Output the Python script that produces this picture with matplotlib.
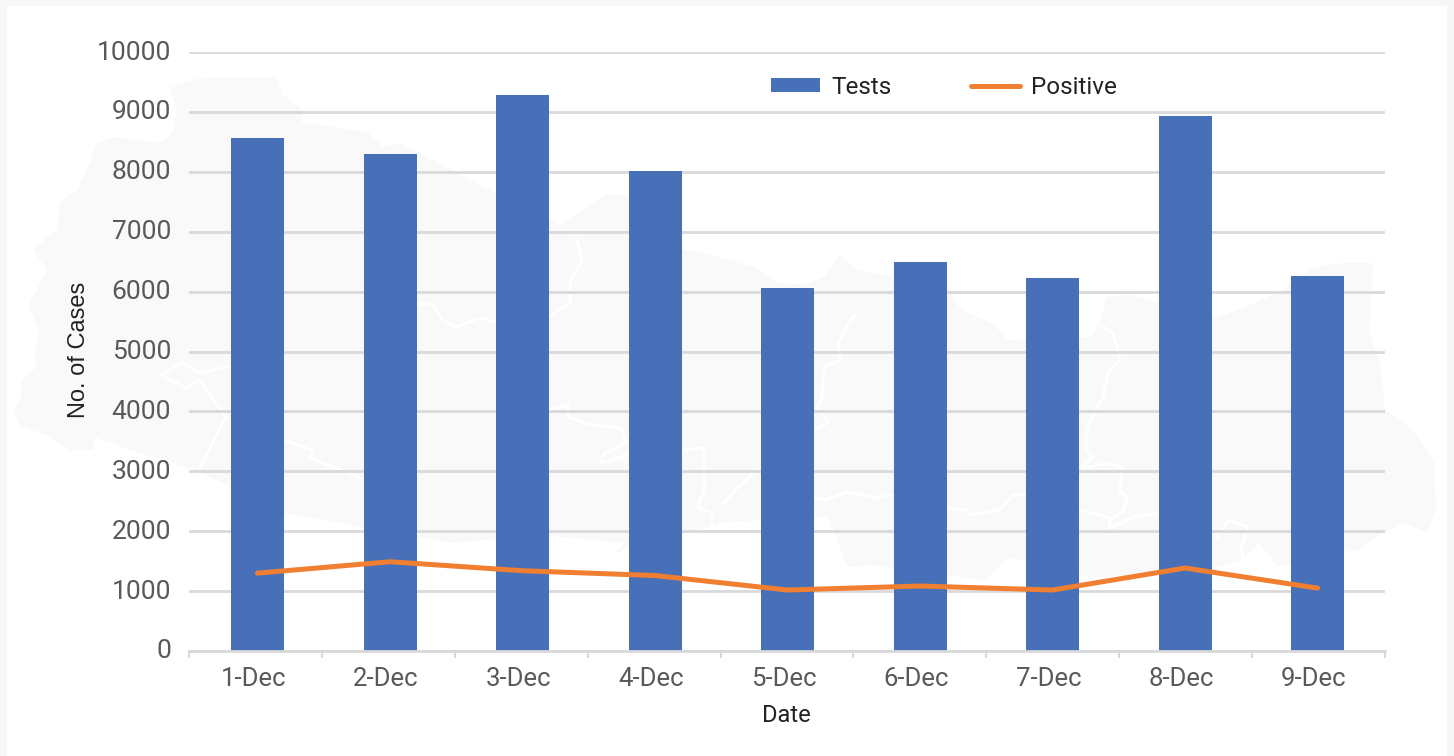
import matplotlib
matplotlib.use('Agg')
import matplotlib.pyplot as plt
from matplotlib.patches import Polygon, Rectangle
from matplotlib.transforms import ScaledTranslation

plt.rcParams['font.family'] = ['Roboto', 'DejaVu Sans']

dates = ['1-Dec', '2-Dec', '3-Dec', '4-Dec', '5-Dec', '6-Dec', '7-Dec', '8-Dec', '9-Dec']
tests = [8570, 8295, 9290, 8020, 6065, 6500, 6220, 8930, 6265]
positive = [1300, 1490, 1340, 1260, 1018, 1085, 1018, 1385, 1050]
y_ticks = list(range(0, 10001, 1000))

# faint map behind the chart, traced by eye (image pixels)
map_outline = [(14, 410), (19, 425), (51, 437), (70, 450), (93, 450), (95, 437), (130, 450),
               (196, 470), (284, 513), (363, 527), (452, 543), (540, 535), (624, 543),
               (615, 553), (680, 535), (724, 522), (829, 517), (847, 567), (873, 565),
               (892, 568), (985, 580), (1008, 558), (1027, 560), (1087, 577), (1190, 575),
               (1241, 560), (1259, 543), (1278, 567), (1320, 555), (1357, 550), (1371, 540),
               (1404, 522), (1427, 533), (1436, 510), (1434, 463), (1413, 430), (1385, 410),
               (1380, 363), (1369, 333), (1373, 263), (1343, 263), (1315, 267), (1278, 293),
               (1245, 307), (1217, 318), (1129, 295), (1106, 297), (1101, 320), (1092, 337),
               (1078, 337), (1008, 340), (992, 323), (961, 310), (947, 287), (857, 270),
               (840, 255), (824, 277), (803, 285), (775, 282), (757, 268), (700, 252),
               (680, 250), (640, 195), (605, 195), (560, 225), (480, 185), (400, 143),
               (383, 147), (367, 132), (333, 127), (302, 123), (300, 107), (283, 95),
               (277, 77), (200, 78), (170, 88), (177, 110), (173, 133), (160, 143),
               (113, 137), (97, 143), (90, 163), (77, 190), (60, 203), (57, 230),
               (47, 237), (33, 250), (47, 270), (28, 307), (40, 330), (35, 353),
               (37, 367), (21, 380), (21, 397)]
map_borders = [
    [(414, 303), (433, 305), (442, 320), (456, 327), (480, 318), (496, 322)],
    [(577, 240), (582, 260), (570, 283), (570, 303), (549, 317)],
    [(161, 375), (182, 363), (200, 373), (228, 367)],
    [(161, 375), (186, 388), (200, 380), (226, 417), (200, 467)],
    [(284, 440), (312, 450), (310, 458), (358, 477)],
    [(549, 410), (568, 405), (568, 417), (591, 425), (621, 428), (626, 443), (605, 453), (600, 463), (628, 455)],
    [(680, 450), (703, 448), (705, 487), (698, 507), (712, 513), (712, 525)],
    [(854, 315), (847, 327), (838, 343), (840, 360), (824, 367), (822, 397), (817, 408), (829, 422), (815, 430)],
    [(812, 497), (826, 500), (847, 492), (878, 498), (892, 495)],
    [(947, 508), (966, 510), (971, 515), (999, 510), (1013, 495), (1027, 495)],
    [(1080, 510), (1110, 518), (1110, 528), (1134, 517), (1159, 513)],
    [(1101, 325), (1113, 333), (1120, 360), (1108, 373), (1103, 397), (1087, 427), (1087, 450), (1092, 457),
     (1082, 468), (1110, 463), (1122, 468), (1120, 492), (1127, 497), (1124, 510), (1113, 518)],
    [(724, 503), (738, 487), (757, 470)],
    [(1217, 537), (1229, 520), (1248, 527), (1241, 547), (1243, 560)],
]

W, H = 1454, 756
fig = plt.figure(figsize=(W / 100, H / 100), dpi=100, facecolor='#f7f7f7')

# card + watermark
bg = fig.add_axes([0, 0, 1, 1])
bg.set_xlim(0, W)
bg.set_ylim(H, 0)
bg.axis('off')
bg.add_patch(Rectangle((7, 6), W - 14, H, facecolor='white', edgecolor='none'))
bg.add_patch(Polygon(map_outline, closed=True, facecolor='#f9f9f9', edgecolor='none'))
for line in map_borders:
    bg.plot([p[0] for p in line], [p[1] for p in line], color='white', lw=2.2)

# chart
ax = fig.add_axes([189 / W, 1 - 651 / H, (1385 - 189) / W, (651 - 52) / H])
ax.patch.set_alpha(0)
x = list(range(len(dates)))
ax.bar(x, tests, width=0.4, color='#4770b8', label='Tests', zorder=2)
ax.plot(x, positive, color='#f07f32', lw=3.6, solid_capstyle='round', label='Positive', zorder=3)

# bars sit a little right of the tick cells in the original
x_min, x_max = -0.517, 8.509
ax.set_xlim(x_min, x_max)
ax.set_ylim(0, 10000)
ax.set_yticks(y_ticks)
ax.set_xticks(x)
ax.set_xticklabels(dates)
ax.set_xticks([x_min + i * (x_max - x_min) / len(dates) for i in range(len(dates) + 1)], minor=True)
ax.grid(axis='y', color='#d9d9d9', lw=2, zorder=1)
ax.set_axisbelow(True)

for s in ['top', 'right', 'left']:
    ax.spines[s].set_visible(False)
ax.spines['bottom'].set_color('#d9d9d9')
ax.spines['bottom'].set_linewidth(2)
ax.tick_params(axis='x', which='major', length=0, labelsize=18.5, labelcolor='#595959', pad=11.5)
ax.tick_params(axis='x', which='minor', length=5, width=1.5, color='#d9d9d9')
ax.tick_params(axis='y', length=0, labelsize=19, labelcolor='#595959', pad=13)

for lbl in ax.get_xticklabels():
    lbl.set_transform(lbl.get_transform() + ScaledTranslation(-4 / 100, 0, fig.dpi_scale_trans))
for lbl in ax.get_yticklabels():
    lbl.set_transform(lbl.get_transform() + ScaledTranslation(0, 2 / 100, fig.dpi_scale_trans))

ax.set_xlabel('Date', fontsize=17, color='#222222', va='center')
ax.xaxis.set_label_coords((786 - 189) / 1196, -65 / 599)
ax.set_ylabel('No. of Cases', fontsize=17, color='#222222', family='Liberation Sans', va='center')
ax.yaxis.set_label_coords((79 - 189) / 1196, 301 / 599)

ax.legend(*[list(v)[::-1] for v in ax.get_legend_handles_labels()], loc='center left',
          bbox_to_anchor=((771 - 189) / 1196, (651 - 87) / 599), borderaxespad=0, borderpad=0,
          ncol=2, frameon=False, fontsize=17.5, labelcolor='#222222', handlelength=2.0,
          handleheight=0.55, columnspacing=3.27, handletextpad=0.48)

fig.savefig('out.png', dpi=100, facecolor=fig.get_facecolor())
